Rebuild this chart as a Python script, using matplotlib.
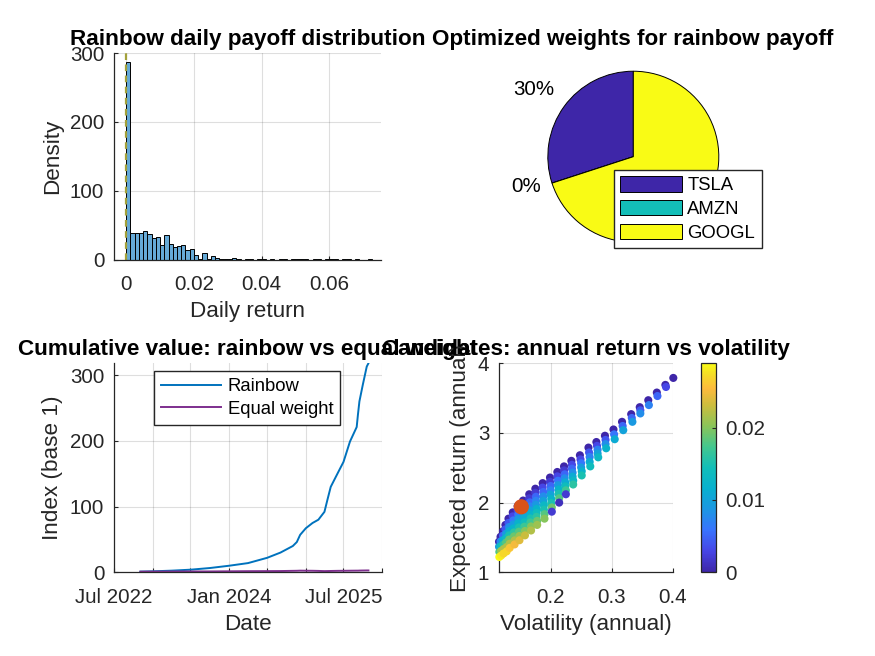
import numpy as np
import pandas as pd
import matplotlib
matplotlib.use('Agg')
import matplotlib.pyplot as plt
from matplotlib.colors import LinearSegmentedColormap

plt.rcParams['font.family'] = ['Liberation Sans', 'DejaVu Sans']

# ---------------- data ----------------
# rainbow daily payoff histogram (pdf per bin)
bin_width = 0.00125
hist_density = [287, 38.7, 39.6, 39.6, 42, 38, 32.4, 32.8, 21.7, 36.2,
                22.7, 18.8, 19.8, 22.2, 14, 15.5, 7.2, 1, 10.6, 1,
                5.8, 3.4, 1.5, 1, 1, 2.4, 1, 0, 1, 1,
                0, 1, 1, 0, 1, 0, 1, 1, 0, 1,
                1, 1, 1, 0, 1, 1, 0, 1, 1, 1,
                0, 1, 1, 0, 1, 0, 0, 1, 0, 0]
payoff_line = 0.0

# optimized weights
tickers = ['TSLA', 'AMZN', 'GOOGL']
weights = [0.30, 0.00, 0.70]

# cumulative value
dates = ['2022-11-04', '2023-01-03', '2023-04-03', '2023-07-03', '2023-10-02',
         '2024-01-02', '2024-04-01', '2024-07-01', '2024-09-03', '2024-11-01',
         '2024-11-20', '2024-12-06', '2025-01-02', '2025-02-03', '2025-03-03',
         '2025-04-01', '2025-04-15', '2025-05-01', '2025-06-02', '2025-07-01',
         '2025-08-01', '2025-09-02', '2025-09-08', '2025-09-15', '2025-10-01',
         '2025-10-20', '2025-10-28']
rainbow_idx = [1.0, 1.5, 2.5, 4.0, 6.5, 10, 14, 22, 30, 40, 46, 57, 67, 75, 80,
               92, 110, 130, 150, 168, 199, 221, 240, 260, 285, 313, 318]
equal_idx = [1.0, 1.1, 1.2, 1.3, 1.3, 1.5, 1.7, 1.8, 1.9, 2.2, 2.3, 2.5, 2.4,
             2.3, 2.1, 1.8, 1.9, 2.0, 2.2, 2.3, 2.4, 2.5, 2.5, 2.6, 2.7, 2.8,
             2.8]

# candidate portfolios, one list per streak (top of streak first)
cand_vol = [
    [0.401],
    [0.388, 0.389],
    [0.374, 0.375],
    [0.360, 0.361],
    [0.346, 0.347, 0.347],
    [0.332, 0.333, 0.334],
    [0.317, 0.318, 0.319],
    [0.303, 0.304, 0.305],
    [0.289, 0.290, 0.290, 0.291],
    [0.275, 0.276, 0.277, 0.277, 0.278],
    [0.262, 0.263, 0.264, 0.264, 0.265],
    [0.248, 0.249, 0.250, 0.250, 0.251, 0.251],
    [0.234, 0.235, 0.235, 0.236, 0.236, 0.237, 0.237],
    [0.222, 0.222, 0.223, 0.223, 0.224, 0.224, 0.225, 0.225],
    [0.211, 0.211, 0.212, 0.212, 0.213, 0.213, 0.214, 0.214],
    [0.199, 0.199, 0.200, 0.200, 0.200, 0.201, 0.201, 0.202, 0.202],
    [0.187, 0.187, 0.188, 0.188, 0.188, 0.189, 0.189, 0.190, 0.190],
    [0.175, 0.175, 0.176, 0.176, 0.176, 0.177, 0.177, 0.177, 0.178, 0.178],
    [0.165, 0.165, 0.166, 0.166, 0.166, 0.167, 0.167, 0.167, 0.168, 0.168],
    [0.155, 0.155, 0.156, 0.156, 0.156, 0.157, 0.157, 0.158, 0.158],
    [0.146, 0.146, 0.147, 0.147, 0.147, 0.148, 0.148, 0.149, 0.149],
    [0.138, 0.138, 0.139, 0.139, 0.139, 0.140, 0.140, 0.141, 0.141],
    [0.131, 0.131, 0.132, 0.132, 0.132, 0.132, 0.133, 0.133],
    [0.126, 0.126, 0.127, 0.127, 0.127, 0.128, 0.128],
    [0.122, 0.122, 0.122, 0.123, 0.123, 0.123],
    [0.118, 0.118, 0.118, 0.119, 0.119],
    [0.1155, 0.1155, 0.116, 0.116],
]
cand_ret = [
    [3.79],
    [3.69, 3.66],
    [3.58, 3.53],
    [3.47, 3.40],
    [3.37, 3.325, 3.28],
    [3.27, 3.215, 3.16],
    [3.16, 3.10, 3.04],
    [3.05, 2.98, 2.91],
    [2.96, 2.90, 2.84, 2.78],
    [2.87, 2.815, 2.76, 2.705, 2.65],
    [2.79, 2.72, 2.655, 2.585, 2.52],
    [2.68, 2.62, 2.565, 2.505, 2.45, 2.39],
    [2.60, 2.543, 2.487, 2.43, 2.373, 2.317, 2.26],
    [2.52, 2.463, 2.406, 2.349, 2.291, 2.234, 2.177, 2.12],
    [2.44, 2.377, 2.314, 2.251, 2.189, 2.126, 2.063, 2.00],
    [2.36, 2.299, 2.238, 2.176, 2.115, 2.054, 1.993, 1.931, 1.87],
    [2.28, 2.216, 2.153, 2.089, 2.025, 1.961, 1.898, 1.834, 1.77],
    [2.20, 2.142, 2.084, 2.027, 1.969, 1.911, 1.853, 1.796, 1.738, 1.68],
    [2.12, 2.062, 2.004, 1.947, 1.889, 1.831, 1.773, 1.716, 1.658, 1.60],
    [2.03, 1.968, 1.905, 1.843, 1.78, 1.718, 1.655, 1.593, 1.53],
    [1.95, 1.889, 1.828, 1.766, 1.705, 1.644, 1.583, 1.521, 1.46],
    [1.86, 1.803, 1.745, 1.688, 1.63, 1.573, 1.515, 1.458, 1.40],
    [1.77, 1.71, 1.65, 1.59, 1.53, 1.47, 1.41, 1.35],
    [1.68, 1.617, 1.553, 1.49, 1.427, 1.363, 1.30],
    [1.59, 1.526, 1.462, 1.398, 1.334, 1.27],
    [1.51, 1.443, 1.375, 1.308, 1.24],
    [1.44, 1.367, 1.293, 1.22],
]
cand_col = [
    [0],
    [0, 0.003],
    [0, 0.005],
    [0, 0.007],
    [0, 0.004, 0.008],
    [0, 0.005, 0.009],
    [0, 0.005, 0.010],
    [0, 0.006, 0.011],
    [0, 0.004, 0.008, 0.012],
    [0, 0.003, 0.007, 0.010, 0.013],
    [0, 0.004, 0.007, 0.011, 0.014],
    [0, 0.003, 0.006, 0.009, 0.012, 0.015],
    [0, 0.003, 0.005, 0.008, 0.011, 0.013, 0.016],
    [0, 0.002, 0.005, 0.008, 0.011, 0.014, 0.017, 0.002],
    [0, 0.003, 0.006, 0.009, 0.012, 0.015, 0.018, 0.001],
    [0, 0.002, 0.005, 0.007, 0.010, 0.012, 0.015, 0.019, 0.002],
    [0, 0.003, 0.005, 0.008, 0.010, 0.013, 0.015, 0.018, 0.020],
    [0, 0.002, 0.005, 0.007, 0.009, 0.012, 0.014, 0.016, 0.019, 0.021],
    [0, 0.002, 0.005, 0.007, 0.010, 0.012, 0.015, 0.017, 0.020, 0.022],
    [0, 0.003, 0.006, 0.009, 0.011, 0.014, 0.017, 0.020, 0.023],
    [0, 0.003, 0.006, 0.009, 0.012, 0.015, 0.018, 0.021, 0.024],
    [0, 0.003, 0.006, 0.009, 0.012, 0.016, 0.019, 0.022, 0.025],
    [0, 0.004, 0.008, 0.011, 0.015, 0.019, 0.022, 0.026],
    [0, 0.004, 0.009, 0.013, 0.018, 0.022, 0.027],
    [0, 0.005, 0.011, 0.016, 0.022, 0.027],
    [0, 0.007, 0.014, 0.021, 0.028],
    [0, 0.009, 0.018, 0.0289],
]
best_vol = 0.152
best_ret = 1.94

# ---------------- style ----------------
parula = LinearSegmentedColormap.from_list('parula', [
    (0.00, (0.2422, 0.1504, 0.6603)),
    (0.10, (0.2760, 0.2700, 0.9000)),
    (0.20, (0.2200, 0.4500, 0.9950)),
    (0.30, (0.1100, 0.5900, 0.8900)),
    (0.40, (0.0300, 0.6900, 0.8100)),
    (0.50, (0.0700, 0.7450, 0.7250)),
    (0.60, (0.2600, 0.7800, 0.5600)),
    (0.70, (0.5400, 0.7700, 0.3500)),
    (0.80, (0.8000, 0.7400, 0.2400)),
    (0.88, (0.9900, 0.7300, 0.2400)),
    (0.95, (0.9600, 0.8700, 0.1500)),
    (1.00, (0.9769, 0.9839, 0.0805))])
pie_colors = ['#3E26A8', '#13BEB8', '#F9FB15']
dark = '#262626'
tick_fs = 14.8
label_fs = 16.2
legend_fs = 13.3


def style_axes(ax):
    ax.grid(True, color=dark, alpha=0.15, linewidth=0.8)
    ax.set_axisbelow(True)
    ax.spines['top'].set_visible(False)
    ax.spines['right'].set_visible(False)
    for s in ['left', 'bottom']:
        ax.spines[s].set_color(dark)
        ax.spines[s].set_linewidth(0.9)
    ax.tick_params(direction='in', length=3, width=0.8, colors=dark,
                   labelsize=tick_fs)
    ax.tick_params(axis='x', pad=11)
    ax.tick_params(axis='y', pad=7)


fig = plt.figure(figsize=(8.75, 6.56), dpi=100)

# ---- top left: histogram ----
ax1 = fig.add_axes([0.1303, 0.6037, 0.3051, 0.3155])
style_axes(ax1)
edges = np.arange(len(hist_density)) * bin_width
ax1.bar(edges, hist_density, width=bin_width, align='edge',
        color='#66AAD7', edgecolor='black', linewidth=0.7)
ax1.axvline(payoff_line, color='#A3A13A', linestyle=(0, (3, 2)), linewidth=1.6)
ax1.set_xlim(-0.0036, 0.0752)
ax1.set_ylim(0, 300)
ax1.set_xticks([0, 0.02, 0.04, 0.06])
ax1.set_xticklabels(['0', '0.02', '0.04', '0.06'])
ax1.set_yticks([0, 100, 200, 300])
ax1.set_xlabel('Daily return', fontsize=label_fs, color=dark, labelpad=5)
ax1.set_ylabel('Density', fontsize=label_fs, color=dark, labelpad=5)
ax1.set_title('Rainbow daily payoff distribution', fontsize=label_fs,
              fontweight='bold', pad=5.5)

# ---- top right: pie ----
ax2 = fig.add_axes([0.5703, 0.6037, 0.3063, 0.3155])
wedges, _ = ax2.pie(weights, colors=pie_colors, startangle=90,
                    counterclock=True,
                    wedgeprops=dict(edgecolor='black', linewidth=0.7))
cum = np.cumsum(weights)
for w, c in zip(weights, cum):
    ang = np.deg2rad(90 + 360 * (c - w / 2))
    cx, cy = np.cos(ang), np.sin(ang)
    ha = 'right' if cx < 0 else 'left'
    va = 'bottom' if cy > 0.5 else ('top' if cy < -0.5 else 'center')
    ax2.text(1.14 * cx, 1.14 * cy, f'{round(w * 100)}%',
             ha=ha, va=va, fontsize=tick_fs, color='black')
ax2.set_aspect('auto')
ax2.set_xlim(-1.571, 1.564)
ax2.set_ylim(-1.208, 1.213)
ax2.axis('off')
leg2 = ax2.legend(wedges, tickers, loc='upper left', bbox_to_anchor=(0.429, 0.435),
                  fontsize=legend_fs, handlelength=3.35, handleheight=0.9,
                  handletextpad=0.27, labelspacing=0.3, borderpad=0.35,
                  borderaxespad=0, fancybox=False, framealpha=1,
                  edgecolor=dark)
leg2.get_frame().set_linewidth(1.0)
leg2.set_zorder(10)
ax2.set_title('Optimized weights for rainbow payoff', fontsize=label_fs,
              fontweight='bold', pad=5.5)

# ---- bottom left: cumulative ----
ax3 = fig.add_axes([0.1303, 0.1276, 0.3063, 0.3186])
style_axes(ax3)
d = pd.to_datetime(dates)
ax3.plot(d, rainbow_idx, color=(0, 0.447, 0.741), linewidth=1.4, label='Rainbow')
ax3.plot(d, equal_idx, color=(0.494, 0.184, 0.556), linewidth=1.4,
         label='Equal weight')
ticks = pd.date_range('2022-07-01', '2026-01-01', freq='6MS')
ax3.set_xticks(ticks)
ax3.set_xticklabels([t.strftime('%b %Y') if i % 3 == 0 else ''
                     for i, t in enumerate(ticks)])
ax3.set_xlim(pd.Timestamp('2022-07-01'), pd.Timestamp('2026-01-01'))
ax3.set_ylim(0, max(rainbow_idx))
ax3.set_yticks([0, 100, 200, 300])
ax3.set_xlabel('Date', fontsize=label_fs, color=dark, labelpad=5)
ax3.set_ylabel('Index (base 1)', fontsize=label_fs, color=dark, labelpad=5)
leg3 = ax3.legend(loc='upper left', bbox_to_anchor=(0.149, 0.963),
                  fontsize=legend_fs, handlelength=3.26, handletextpad=0.36,
                  labelspacing=0.3, borderpad=0.38, borderaxespad=0,
                  fancybox=False, framealpha=1, edgecolor=dark)
leg3.get_frame().set_linewidth(1.0)
ax3.set_title('Cumulative value: rainbow vs equal weight', fontsize=label_fs,
              fontweight='bold', pad=6)

# ---- bottom right: candidates ----
ax4 = fig.add_axes([0.5703, 0.1276, 0.1992, 0.3186])
style_axes(ax4)
vols = np.concatenate([np.array(v) for v in cand_vol[::-1]])
rets = np.concatenate([np.array(r) for r in cand_ret[::-1]])
cols = np.concatenate([np.array(c) for c in cand_col[::-1]])
sc = ax4.scatter(vols, rets, c=cols, s=34, cmap=parula, vmin=cols.min(),
                 vmax=cols.max(), edgecolors='none', clip_on=False, zorder=3)
ax4.scatter([best_vol], [best_ret], s=120, color='#D95319', edgecolors='none',
            zorder=4)
ax4.set_xlim(vols.min(), vols.max())
ax4.set_ylim(1, 4)
ax4.set_xticks([0.2, 0.3, 0.4])
ax4.set_xticklabels(['0.2', '0.3', '0.4'])
ax4.set_yticks([1, 2, 3, 4])
ax4.set_xlabel('Volatility (annual)', fontsize=label_fs, color=dark, labelpad=5)
ax4.set_ylabel('Expected return (annual)', fontsize=label_fs, color=dark,
               labelpad=5)
ax4.set_title('Candidates: annual return vs volatility', fontsize=label_fs,
              fontweight='bold', pad=6)

cax = fig.add_axes([0.8008, 0.1276, 0.0175, 0.3186])
cb = fig.colorbar(sc, cax=cax)
cb.set_ticks([0, 0.01, 0.02])
cb.set_ticklabels(['0', '0.01', '0.02'])
cb.ax.tick_params(direction='in', length=3, width=0.8, colors=dark,
                  labelsize=tick_fs, pad=7)
cb.outline.set_edgecolor(dark)
cb.outline.set_linewidth(0.9)

fig.savefig('out.png', dpi=100)
